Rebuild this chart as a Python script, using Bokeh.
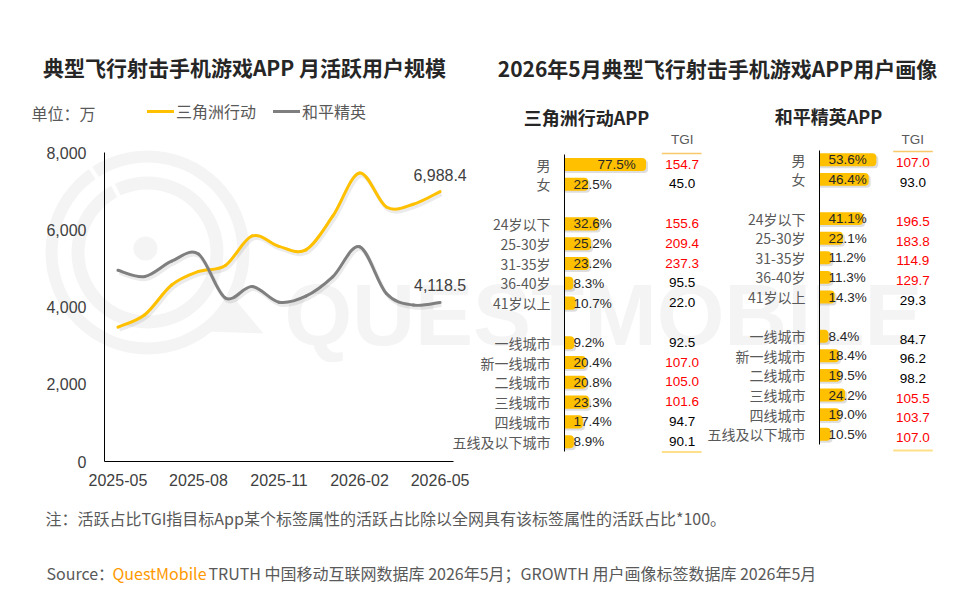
import numpy as np
from bokeh.plotting import figure
from bokeh.layouts import row
from bokeh.models import Range1d, FixedTicker, NumeralTickFormatter, Label, Legend, LegendItem
from bokeh.core.properties import value
from bokeh.embed import file_html
from bokeh.resources import INLINE

# ---------------- data ----------------
months = ["2025-05", "2025-06", "2025-07", "2025-08", "2025-09", "2025-10", "2025-11",
          "2025-12", "2026-01", "2026-02", "2026-03", "2026-04", "2026-05"]
tick_months = ["2025-05", "2025-08", "2025-11", "2026-02", "2026-05"]
y_ticks = [0, 2000, 4000, 6000, 8000]
series_names = ["三角洲行动", "和平精英"]
mau_sjz = [3480, 3800, 4570, 4920, 5075, 5840, 5570, 5480, 6350, 7470, 6590, 6660, 6988.4]
mau_hpjy = [4950, 4790, 5185, 5370, 4235, 4530, 4125, 4280, 4780, 5560, 4350, 4050, 4118.5]

gender_cats = ["男", "女"]
age_cats = ["24岁以下", "25-30岁", "31-35岁", "36-40岁", "41岁以上"]
city_cats = ["一线城市", "新一线城市", "二线城市", "三线城市", "四线城市", "五线及以下城市"]

sjz_gender = [77.5, 22.5]
sjz_gender_tgi = [154.7, 45.0]
sjz_age = [32.6, 25.2, 23.2, 8.3, 10.7]
sjz_age_tgi = [155.6, 209.4, 237.3, 95.5, 22.0]
sjz_city = [9.2, 20.4, 20.8, 23.3, 17.4, 8.9]
sjz_city_tgi = [92.5, 107.0, 105.0, 101.6, 94.7, 90.1]

hp_gender = [53.6, 46.4]
hp_gender_tgi = [107.0, 93.0]
hp_age = [41.1, 22.1, 11.2, 11.3, 14.3]
hp_age_tgi = [196.5, 183.8, 114.9, 129.7, 29.3]
hp_city = [8.4, 18.4, 19.5, 24.2, 19.0, 10.5]
hp_city_tgi = [84.7, 96.2, 98.2, 105.5, 103.7, 107.0]

title_left = "典型飞行射击手机游戏APP 月活跃用户规模"
title_right = "2026年5月典型飞行射击手机游戏APP用户画像"
sub_sjz = "三角洲行动APP"
sub_hp = "和平精英APP"
unit_text = "单位：万"
note_text = "注：活跃占比TGI指目标App某个标签属性的活跃占比除以全网具有该标签属性的活跃占比*100。"
src_parts = ["Source：", "QuestMobile", "TRUTH 中国移动互联网数据库 2026年5月；GROWTH 用户画像标签数据库 2026年5月"]

# ---------------- style ----------------
CJK = "Noto Sans CJK SC"
NUM = "Liberation Sans"
TXT_GREY = "#595959"
TXT_DARK = "#262626"
YEL = "#FFC000"
GRY = "#7F7F7F"
WM = "#F4F4F4"
BG_W, BG_H = 952, 588
ROW_TOP, ROW_BOT = 95, 500      # vertical extent of the chart row (page px)
FRAME_BOT = 461                 # shared frame bottom (x axis line)


def strip(f):
    f.outline_line_color = None
    f.grid.visible = False


# ---------------- background (texts + watermark) ----------------
bg = figure(width=BG_W, height=BG_H, x_range=Range1d(0, BG_W), y_range=Range1d(BG_H, 0),
            output_backend="svg", toolbar_location=None, min_border=0,
            x_axis_location=None, y_axis_location=None)
strip(bg)

cx, cy = 147, 252
bg.annulus(x=[cx, cx], y=[cy, cy], inner_radius=[90, 63], outer_radius=[102, 76],
           fill_color=WM, line_color=None)
bg.patch(x=[233, 263, 205, 215], y=[297, 333, 331, 312], fill_color=WM, line_color=None)
for ang, r0, r1 in [(124, 86, 106), (117, 60, 80)]:
    a = np.deg2rad(ang)
    bg.segment(x0=[cx + r0 * np.cos(a)], y0=[cy - r0 * np.sin(a)],
               x1=[cx + r1 * np.cos(a)], y1=[cy - r1 * np.sin(a)],
               line_color="white", line_width=4)
bg.circle(x=[145], y=[248], radius=12, fill_color=WM, line_color=None)
bg.text(x=[284], y=[314], text=["QUESTMOBILE"], text_font=value(NUM), text_font_style="bold",
        text_font_size="87px", text_baseline="alphabetic", text_align="left", text_color=WM)


def bg_text(px, py, s, size, color, align="left", bold=False, font=CJK):
    bg.text(x=[px], y=[py], text=[s], text_font=value(font), text_font_size=size,
            text_font_style="bold" if bold else "normal", text_align=align,
            text_baseline="middle", text_color=color)


bg_text(244, 66, title_left, "21px", TXT_DARK, "center", True)
bg_text(717, 67, title_right, "21px", TXT_DARK, "center", True)
bg_text(586, 116, sub_sjz, "18px", TXT_DARK, "center", True)
bg_text(828, 115, sub_hp, "18px", TXT_DARK, "center", True)
bg_text(31, 112, unit_text, "16px", TXT_GREY)
bg_text(45, 517, note_text, "16px", TXT_GREY)
bg_text(46, 572, src_parts[0], "16px", TXT_GREY)
bg_text(112, 572, src_parts[1], "16px", "#FF9900")
bg_text(208, 572, src_parts[2], "16px", TXT_GREY)

# ---------------- left: line chart ----------------
AX_LEFT, AX_RIGHT, AX_TOP = 104, 453, 152
LF_W = 480
PX_PER_VAL = (FRAME_BOT - AX_TOP) / (y_ticks[-1] - y_ticks[0])
PX_PER_MON = (AX_RIGHT - AX_LEFT) / len(months)
x0r = -0.5
lf = figure(width=LF_W, height=ROW_BOT - ROW_TOP,
            x_range=Range1d(x0r, x0r + (LF_W - AX_LEFT) / PX_PER_MON),
            y_range=Range1d(y_ticks[0], y_ticks[-1] + (AX_TOP - ROW_TOP) / PX_PER_VAL),
            output_backend="svg", toolbar_location=None,
            min_border_left=AX_LEFT, min_border_right=0, min_border_top=0,
            min_border_bottom=ROW_BOT - FRAME_BOT,
            background_fill_color=None, border_fill_color=None)
strip(lf)
xt = [months.index(m) for m in tick_months]
lf.xaxis.ticker = FixedTicker(ticks=xt)
lf.xaxis.major_label_overrides = {i: months[i] for i in xt}
lf.xaxis.bounds = (x0r, len(months) - 0.5)
lf.yaxis.ticker = FixedTicker(ticks=y_ticks)
lf.yaxis.formatter = NumeralTickFormatter(format="0,0")
lf.yaxis.bounds = (y_ticks[0], y_ticks[-1])
for ax in (lf.xaxis[0], lf.yaxis[0]):
    ax.axis_line_color = "black"
    ax.axis_line_width = 1
    ax.major_tick_line_color = None
    ax.minor_tick_line_color = None
    ax.major_tick_out = 0
    ax.major_tick_in = 0
    ax.major_label_text_font = NUM
    ax.major_label_text_font_size = "16px"
    ax.major_label_text_color = "#404040"
lf.yaxis.major_label_standoff = 18
lf.xaxis.major_label_standoff = 12


def bez(ys):
    ys = np.asarray(ys, float)
    xs = np.arange(len(ys), dtype=float)
    n = len(ys)
    i0 = np.arange(n - 1)
    im = np.maximum(i0 - 1, 0)
    i2 = i0 + 1
    i3 = np.minimum(i0 + 2, n - 1)
    return dict(x0=xs[i0], y0=ys[i0], x1=xs[i2], y1=ys[i2],
                cx0=xs[i0] + (xs[i2] - xs[im]) / 6, cy0=ys[i0] + (ys[i2] - ys[im]) / 6,
                cx1=xs[i2] - (xs[i3] - xs[i0]) / 6, cy1=ys[i2] - (ys[i3] - ys[i0]) / 6)


rends = []
for ys in (mau_sjz, mau_hpjy):
    d = bez(ys)
    sh = dict(d)
    for k in ("x0", "x1", "cx0", "cx1"):
        sh[k] = d[k] + 1.5 / PX_PER_MON
    for k in ("y0", "y1", "cy0", "cy1"):
        sh[k] = d[k] - 2.5 / PX_PER_VAL
    lf.bezier(**sh, line_color="black", line_alpha=0.08, line_width=4)
for ys, col in [(mau_sjz, YEL), (mau_hpjy, GRY)]:
    rends.append(lf.bezier(**bez(ys), line_color=col, line_width=3, line_cap="round"))
    lf.add_layout(Label(x=len(ys) - 1, y=ys[-1] + 17 / PX_PER_VAL, text=f"{ys[-1]:,.1f}",
                        text_align="center", text_baseline="middle", text_font=NUM,
                        text_font_size="16px", text_color="#404040"))

legend = Legend(items=[LegendItem(label=series_names[0], renderers=[rends[0]], index=0),
                       LegendItem(label=series_names[1], renderers=[rends[1]], index=0)],
                orientation="horizontal", location=(147 - AX_LEFT, FRAME_BOT - 123),
                padding=0, margin=0, spacing=17, glyph_width=27, glyph_height=20,
                label_height=20, label_standoff=2, label_text_font=CJK,
                label_text_font_size="16px", label_text_color=TXT_GREY,
                border_line_color=None, background_fill_alpha=0)
lf.add_layout(legend)

# ---------------- right: profile panels ----------------
groups = [gender_cats, age_cats, city_cats]
pos = []
p = 0
for g in groups:
    for _ in g:
        pos.append(p)
        p += 1
    p += 1
pos = np.array(pos, dtype=float)
cats = gender_cats + age_cats + city_cats
S = 1.06  # px per percent


def panel(fig_x0, fig_w, axis_px, row0_py, row_sp, vals, tgis, tgi_px, tgi_dy,
          hdr_py, ln_top, ln_bot, ln_x0, ln_x1, margin):
    mbl = int(round(axis_px - fig_x0))
    ax_px = fig_x0 + mbl
    fw = fig_w - mbl
    f = figure(width=fig_w, height=ROW_BOT - ROW_TOP, x_range=Range1d(0, fw / S),
               y_range=Range1d((FRAME_BOT - row0_py) / row_sp, (ROW_TOP - row0_py) / row_sp),
               output_backend="svg", toolbar_location=None, x_axis_location=None,
               min_border_left=mbl, min_border_right=0, min_border_top=0,
               min_border_bottom=ROW_BOT - FRAME_BOT,
               background_fill_color=None, border_fill_color=None, margin=margin)
    strip(f)

    def dx(px):
        return (px - ax_px) / S

    def dy(py):
        return (py - row0_py) / row_sp

    vals = np.asarray(vals, float)
    f.hbar(y=pos + 2.0 / row_sp, left=0, right=vals + 2.0 / S, height=0.66,
           fill_color="black", fill_alpha=0.13, line_color=None, border_radius=(0, 4, 4, 0))
    f.hbar(y=pos, left=0, right=vals, height=0.66, fill_color=YEL, line_color=None,
           border_radius=(0, 4, 4, 0))
    f.text(x=np.maximum(9 / S, vals - 49 / S), y=pos, text=[f"{v:.1f}%" for v in vals],
           text_font=value(NUM), text_font_size="13.5px", text_color=TXT_DARK,
           text_align="left", text_baseline="middle")
    f.text(x=[dx(tgi_px)] * len(tgis), y=pos + tgi_dy / row_sp, text=[f"{t:.1f}" for t in tgis],
           text_font=value(NUM), text_font_size="13.5px",
           text_color=["#FF0000" if t > 100 else "#000000" for t in tgis],
           text_align="center", text_baseline="middle")
    f.text(x=[dx(tgi_px)], y=[dy(hdr_py)], text=["TGI"], text_font=value(NUM),
           text_font_size="13.5px", text_color=TXT_GREY, text_align="center",
           text_baseline="middle")
    f.segment(x0=[dx(ln_x0)] * 2, x1=[dx(ln_x1)] * 2, y0=[dy(ln_top), dy(ln_bot)],
              y1=[dy(ln_top), dy(ln_bot)], line_color=["#F9C86A", "#FFE08A"], line_width=[1.5, 2])

    ya = f.yaxis[0]
    ya.ticker = FixedTicker(ticks=list(pos))
    ya.major_label_overrides = {int(q): c for q, c in zip(pos, cats)}
    ya.bounds = (pos[0] - 0.5, pos[-1] + 0.5)
    ya.axis_line_color = "black"
    ya.major_tick_line_color = None
    ya.minor_tick_line_color = None
    ya.major_tick_out = 0
    ya.major_tick_in = 0
    ya.major_label_standoff = 14
    ya.major_label_text_font = CJK
    ya.major_label_text_font_size = "14px"
    ya.major_label_text_color = TXT_GREY
    return f


PA_X0, PB_X0 = 449, 704
pa = panel(PA_X0, PB_X0 - PA_X0, 563.3, 164, 19.8, sjz_gender + sjz_age + sjz_city,
           sjz_gender_tgi + sjz_age_tgi + sjz_city_tgi, 681.5, -0.5,
           139, 153, 451.5, 661, 701, (0, 0, 0, PA_X0 - LF_W))
pb = panel(PB_X0, BG_W - PB_X0, 819.3, 159.3, 19.6, hp_gender + hp_age + hp_city,
           hp_gender_tgi + hp_age_tgi + hp_city_tgi, 912.3, 3,
           139, 151, 450, 892.7, 932.3, (0, 0, 0, 0))

fg = row(lf, pa, pb, margin=(ROW_TOP, 0, 0, -BG_W))
layout = row(bg, fg)

open("out.html", "w").write(file_html(layout, INLINE))
